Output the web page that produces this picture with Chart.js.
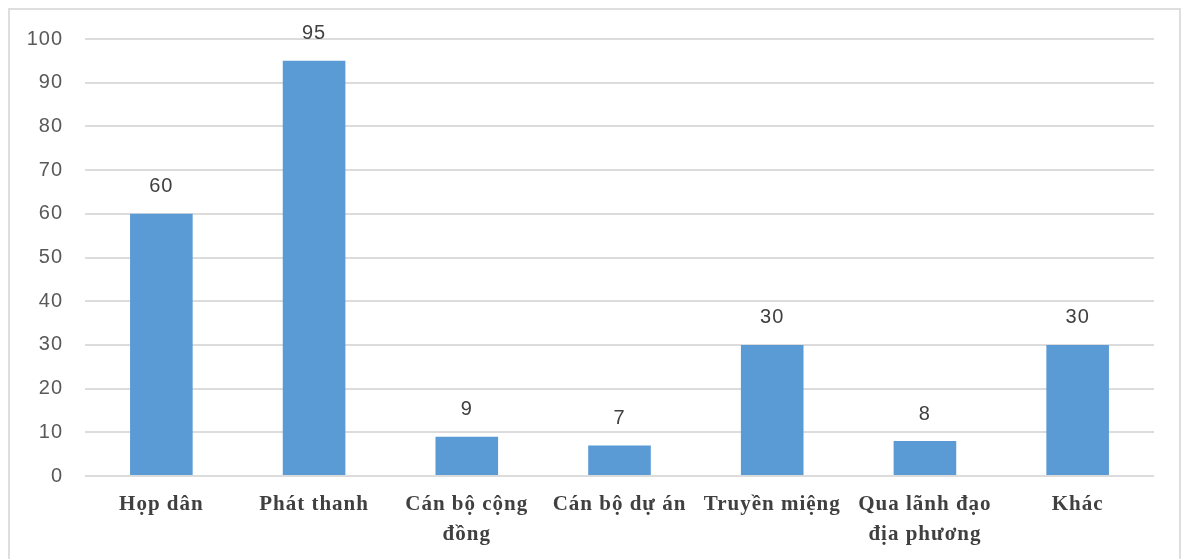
<!DOCTYPE html>
<html>
<head>
<meta charset="utf-8">
<script src="https://cdn.jsdelivr.net/npm/chart.js@4"></script>
<style>
    html, body { margin: 0; padding: 0; background: #fff; }
    #wrap { position: relative; width: 1187px; height: 559px; overflow: hidden; }
    #frame {
        position: absolute; left: 8px; top: 8px; width: 1173px; height: 570px;
        border: 2px solid #dedede; box-sizing: border-box;
    }
    #chartBox { position: absolute; left: 0; top: 0; width: 1187px; height: 559px; }
</style>
</head>
<body>
<div id="wrap">
    <div id="frame"></div>
    <div id="chartBox"><canvas id="sourceChart"></canvas></div>
</div>
<script>
// CHART DATA ----------------------------------------------------------------
const categories = [
    "Họp dân",
    "Phát thanh",
    ["Cán bộ cộng", "đồng"],
    "Cán bộ dự án",
    "Truyền miệng",
    ["Qua lãnh đạo", "địa phương"],
    "Khác"
];
const responses = [60, 95, 9, 7, 30, 8, 30];
const yTicks = [0, 10, 20, 30, 40, 50, 60, 70, 80, 90, 100];

// slightly wider text for all labels
const wideText = {
    id: 'wideText',
    beforeDraw(chart) { chart.ctx.letterSpacing = '1px'; },
    afterDraw(chart) { chart.ctx.letterSpacing = '0px'; }
};

// value printed above each bar
const barValueLabels = {
    id: 'barValueLabels',
    afterDatasetsDraw(chart) {
        const ctx = chart.ctx;
        const meta = chart.getDatasetMeta(0);
        ctx.save();
        ctx.font = '20px "Liberation Sans", Arial, sans-serif';
        ctx.fillStyle = '#404040';
        ctx.textAlign = 'center';
        ctx.textBaseline = 'middle';
        meta.data.forEach((bar, i) => {
            ctx.fillText(String(responses[i]), bar.x, bar.y - 27);
        });
        ctx.restore();
    }
};

document.addEventListener('DOMContentLoaded', () => {
    const ctx = document.getElementById('sourceChart').getContext('2d');

    new Chart(ctx, {
        type: 'bar',
        data: {
            labels: categories,
            datasets: [{
                data: responses,
                backgroundColor: '#5b9bd5',
                borderWidth: 0,
                barPercentage: 1,
                categoryPercentage: 0.41
            }]
        },
        options: {
            responsive: true,
            maintainAspectRatio: false,
            animation: false,
            layout: {
                padding: { top: 39, right: 33, bottom: 0, left: 0 }
            },
            plugins: {
                legend: { display: false },
                tooltip: { enabled: false }
            },
            scales: {
                x: {
                    grid: { display: false, drawTicks: false },
                    border: { display: false },
                    ticks: {
                        autoSkip: false,
                        maxRotation: 0,
                        padding: 14,
                        color: '#404040',
                        font: { family: '"Liberation Serif", "Times New Roman", serif', size: 21, weight: 'bold', lineHeight: '30px' }
                    },
                    afterFit(scale) { scale.height = 83; }
                },
                y: {
                    min: 0,
                    max: 100,
                    afterBuildTicks(scale) { scale.ticks = yTicks.map(v => ({ value: v })); },
                    grid: { color: '#dcdcdc', lineWidth: 2, drawTicks: false },
                    border: { display: false },
                    ticks: {
                        padding: 22,
                        color: '#595959',
                        font: { family: '"Liberation Sans", Arial, sans-serif', size: 20 }
                    },
                    afterFit(scale) { scale.width = 85; }
                }
            }
        },
        plugins: [wideText, barValueLabels]
    });
});
</script>
</body>
</html>
